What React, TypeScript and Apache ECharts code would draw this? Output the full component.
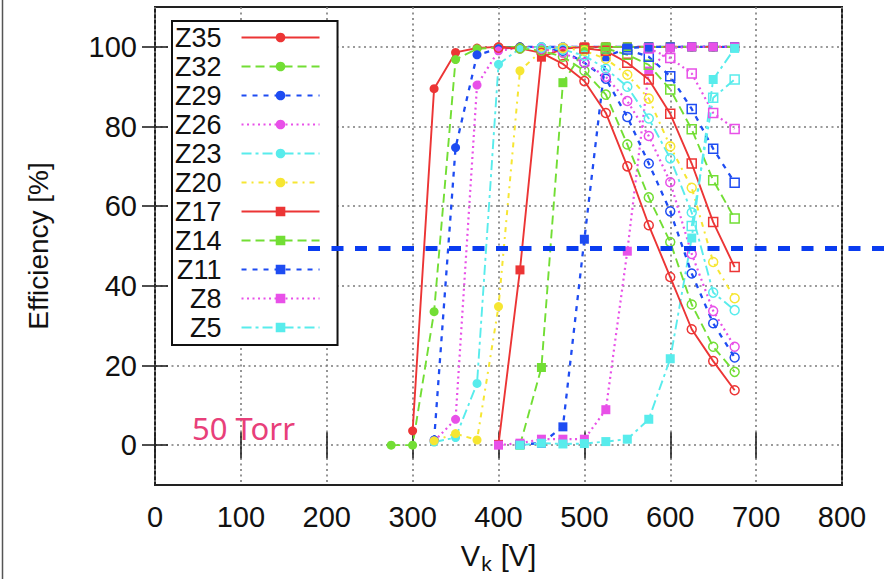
import React, { useEffect, useRef } from "react";
import * as echarts from "echarts";

// ---------- data ----------
const xTicks = [0, 100, 200, 300, 400, 500, 600, 700, 800];
const yTicks = [0, 20, 40, 60, 80, 100];
const seriesNames = ["Z35", "Z32", "Z29", "Z26", "Z23", "Z20", "Z17", "Z14", "Z11", "Z8", "Z5"];

// rising branch (filled markers): [Vk, efficiency %]
const riseZ35 = [[300, 3.6], [325, 89.5], [350, 98.6], [375, 99.7], [400, 100], [425, 100], [450, 100], [475, 100], [500, 100], [525, 100], [550, 100], [575, 100], [600, 100], [625, 100], [650, 100], [675, 100]];
const riseZ32 = [[275, 0], [300, 0], [325, 33.5], [350, 96.8], [375, 99.5], [400, 99.8], [425, 100], [450, 100], [475, 100], [500, 100], [525, 100], [550, 100], [575, 100], [600, 100], [625, 100], [650, 100], [675, 100]];
const riseZ29 = [[325, 1.3], [350, 74.7], [375, 98], [400, 99.5], [425, 100], [450, 100], [475, 100], [500, 100], [525, 100], [550, 100], [575, 100], [600, 100], [625, 100], [650, 100], [675, 100]];
const riseZ26 = [[325, 1], [350, 6.5], [375, 90.4], [400, 99], [425, 99.8], [450, 100], [475, 100], [500, 100], [525, 100], [550, 100], [575, 100], [600, 100], [625, 100], [650, 100], [675, 100]];
const riseZ23 = [[325, 0.8], [350, 1.9], [375, 15.5], [400, 95.6], [425, 99.6], [450, 100], [475, 100], [500, 100], [525, 100], [550, 100], [575, 100], [600, 100], [625, 100], [650, 100], [675, 100]];
const riseZ20 = [[325, 1.1], [350, 2.9], [375, 1.3], [400, 34.8], [425, 94], [450, 99], [475, 99.8], [500, 100], [525, 100], [550, 100], [575, 100], [600, 100], [625, 100], [650, 100], [675, 100]];
const riseZ17 = [[400, 0.2], [425, 44], [450, 97.4], [475, 99.5], [500, 100], [525, 100], [550, 100], [575, 100], [600, 100], [625, 100], [650, 100], [675, 100]];
const riseZ14 = [[425, 0], [450, 19.5], [475, 91], [500, 99.3], [525, 100], [550, 100], [575, 100], [600, 100], [625, 100], [650, 100], [675, 100]];
const riseZ11 = [[425, 0.2], [450, 0.5], [475, 4.6], [500, 51.7], [525, 97.5], [550, 99.7], [575, 100], [600, 100], [625, 100], [650, 100], [675, 100]];
const riseZ8 = [[400, 0], [425, 0.5], [450, 1.5], [475, 1.5], [500, 1.5], [525, 8.9], [550, 48.7], [575, 93.9], [600, 99.7], [625, 100], [650, 100], [675, 100]];
const riseZ5 = [[425, 0], [450, 0.5], [475, 0.3], [500, 0.4], [525, 0.9], [550, 1.5], [575, 6.5], [600, 21.7], [625, 52], [650, 91.8], [675, 99.6]];

// falling branch (open markers)
const fallZ35 = [[400, 99.8], [425, 99.6], [450, 98.5], [475, 95.7], [500, 91.4], [525, 83.4], [550, 70], [575, 55.2], [600, 42.2], [625, 29.1], [650, 21.1], [675, 13.8]];
const fallZ32 = [[425, 99.6], [450, 99], [475, 97.5], [500, 94], [525, 88], [550, 75.5], [575, 62.2], [600, 51], [625, 35.3], [650, 24.7], [675, 18.4]];
const fallZ29 = [[450, 99.6], [475, 99], [500, 96], [525, 92], [550, 82.4], [575, 70.7], [600, 58.7], [625, 43.1], [650, 30.6], [675, 22]];
const fallZ26 = [[450, 99.5], [475, 98.5], [500, 96], [525, 92.5], [550, 86.4], [575, 77.6], [600, 66], [625, 48], [650, 33.7], [675, 24.7]];
const fallZ23 = [[450, 99.8], [475, 99.3], [500, 97.8], [525, 94.5], [550, 90], [575, 82], [600, 72], [625, 58.4], [650, 38.3], [675, 33.9]];
const fallZ20 = [[475, 99.7], [500, 99], [525, 97], [550, 93], [575, 87], [600, 75], [625, 64.6], [650, 46], [675, 36.9]];
const fallZ17 = [[500, 99.6], [525, 99], [550, 96], [575, 91.8], [600, 83.2], [625, 70.7], [650, 56], [675, 44.7]];
const fallZ14 = [[525, 99.6], [550, 98], [575, 95.5], [600, 89.3], [625, 79.3], [650, 66.5], [675, 56.9]];
const fallZ11 = [[550, 99.3], [575, 97.5], [600, 92.6], [625, 84.4], [650, 74.4], [675, 65.9]];
const fallZ8 = [[575, 99.6], [600, 97.2], [625, 93.3], [650, 83.4], [675, 79.4]];
const fallZ5 = [[625, 55], [650, 87.2], [675, 91.8]];

const riseData = [riseZ35, riseZ32, riseZ29, riseZ26, riseZ23, riseZ20, riseZ17, riseZ14, riseZ11, riseZ8, riseZ5];
const fallData = [fallZ35, fallZ32, fallZ29, fallZ26, fallZ23, fallZ20, fallZ17, fallZ14, fallZ11, fallZ8, fallZ5];

const thresholdLevel = 49.4;
const pressureLabel = "50 Torr";

// ---------- styles ----------
const RED = "#ec3535";
const GREEN = "#72de34";
const BLUE = "#1e4cf2";
const MAGENTA = "#e850e8";
const CYAN = "#58ecec";
const YELLOW = "#f6e632";

const looks = [
  { color: RED, dash: "solid", width: 1.9, sym: "circle" },
  { color: GREEN, dash: [9, 5], width: 1.9, sym: "circle" },
  { color: BLUE, dash: [5, 6], width: 2.3, sym: "circle" },
  { color: MAGENTA, dash: [2, 3.5], width: 2.2, sym: "circle" },
  { color: CYAN, dash: [10, 4, 3, 4], width: 1.9, sym: "circle" },
  { color: YELLOW, dash: [5, 5, 2, 5], width: 2, sym: "circle" },
  { color: RED, dash: "solid", width: 1.9, sym: "rect" },
  { color: GREEN, dash: [9, 5], width: 1.9, sym: "rect" },
  { color: BLUE, dash: [5, 6], width: 2.3, sym: "rect" },
  { color: MAGENTA, dash: [2, 3.5], width: 2.2, sym: "rect" },
  { color: CYAN, dash: [10, 4, 3, 4], width: 1.9, sym: "rect" },
];

const FONT = "'Liberation Sans', Arial, Helvetica, sans-serif";

export default function App() {
  const ref = useRef<HTMLDivElement>(null);

  useEffect(() => {
    const chart = echarts.init(ref.current as HTMLDivElement, null, { renderer: "svg" });

    const series: any[] = [];
    seriesNames.forEach((name, i) => {
      const lk = looks[i];
      series.push({
        type: "line",
        name,
        data: riseData[i],
        symbol: lk.sym,
        symbolSize: 9,
        lineStyle: { color: lk.color, width: lk.width, type: lk.dash },
        itemStyle: { color: lk.color },
        z: 2,
      });
    });
    seriesNames.forEach((name, i) => {
      const lk = looks[i];
      series.push({
        type: "line",
        name,
        data: fallData[i],
        symbol: lk.sym,
        symbolSize: 9,
        lineStyle: { color: lk.color, width: lk.width, type: lk.dash },
        itemStyle: { color: "rgba(255,255,255,0)", borderColor: lk.color, borderWidth: 1.5 },
        z: 2,
      });
    });

    const tickStyle = { color: "#222", width: 1.6 };
    const gridLine = { show: true, lineStyle: { color: "#7a7a7a", width: 1.6, type: [2, 3.5] } };

    const option: any = {
      animation: false,
      backgroundColor: "#fff",
      textStyle: { fontFamily: FONT },
      grid: {
        left: 155,
        right: 46,
        top: 7,
        bottom: 93,
        show: true,
        borderColor: "#222",
        borderWidth: 2,
        backgroundColor: "transparent",
      },
      legend: {
        orient: "vertical",
        left: 172,
        top: 21,
        align: "right",
        itemWidth: 78,
        itemHeight: 12,
        itemGap: 0,
        padding: [2, 17, 3, 3],
        backgroundColor: "#fff",
        borderColor: "#111",
        borderWidth: 2,
        selectedMode: false,
        data: seriesNames,
        textStyle: { fontSize: 27, color: "#111", lineHeight: 29, padding: [0, 15, 0, 0], fontFamily: FONT },
      },
      xAxis: [
        {
          type: "value",
          min: 0,
          max: 800,
          interval: 100,
          axisLine: { show: false },
          axisTick: { show: true, inside: true, length: 13, lineStyle: tickStyle, customValues: xTicks },
          axisLabel: { customValues: xTicks, fontSize: 29, color: "#111", margin: 17, fontFamily: FONT },
          splitLine: gridLine,
          name: "V{sub|k} [V]",
          nameLocation: "middle",
          nameGap: 52,
          nameTextStyle: {
            fontSize: 29,
            color: "#111",
            fontFamily: FONT,
            rich: { sub: { fontSize: 21, padding: [16, 1, 0, 1], fontFamily: FONT, color: "#111" } },
          },
        },
        {
          type: "value",
          position: "top",
          min: 0,
          max: 800,
          interval: 100,
          axisLine: { show: false },
          axisTick: { show: true, inside: true, length: 13, lineStyle: tickStyle, customValues: xTicks },
          axisLabel: { show: false },
          splitLine: { show: false },
        },
      ],
      yAxis: [
        {
          type: "value",
          min: -10,
          max: 110,
          interval: 10,
          axisLine: { show: false },
          axisTick: { show: true, inside: true, length: 13, lineStyle: tickStyle, customValues: yTicks },
          axisLabel: { customValues: yTicks, fontSize: 29, color: "#111", margin: 18, fontFamily: FONT },
          splitLine: gridLine,
          name: "Efficiency [%]",
          nameLocation: "middle",
          nameGap: 103,
          nameTextStyle: { fontSize: 28, color: "#111", fontFamily: FONT },
        },
        {
          type: "value",
          position: "right",
          min: -10,
          max: 110,
          interval: 10,
          axisLine: { show: false },
          axisTick: { show: true, inside: true, length: 13, lineStyle: tickStyle, customValues: yTicks },
          axisLabel: { show: false },
          splitLine: { show: false },
        },
      ],
      series,
    };

    chart.setOption(option);

    const yPix = (chart.convertToPixel({ gridIndex: 0 } as any, [0, thresholdLevel]) as number[])[1];

    chart.setOption({
      graphic: [
        {
          type: "line",
          z: 100,
          shape: { x1: 308, y1: yPix, x2: 888, y2: yPix },
          style: { stroke: "#0a3cf0", lineWidth: 5, lineDash: [12, 11.5] },
        },
        {
          type: "text",
          z: 100,
          x: 192,
          y: 428,
          style: {
            text: pressureLabel,
            fill: "#e83f7a",
            fontSize: 31,
            fontFamily: "'Noto Sans', sans-serif",
            verticalAlign: "middle",
            align: "left",
          },
        },
        {
          type: "line",
          z: 100,
          shape: { x1: 2.5, y1: 0, x2: 2.5, y2: 579 },
          style: { stroke: "#555", lineWidth: 1.5 },
        },
      ],
    });

    return () => chart.dispose();
  }, []);

  return (
    <div
      ref={ref}
      style={{ position: "absolute", left: 0, top: 0, width: 888, height: 579, background: "#fff" }}
    />
  );
}
